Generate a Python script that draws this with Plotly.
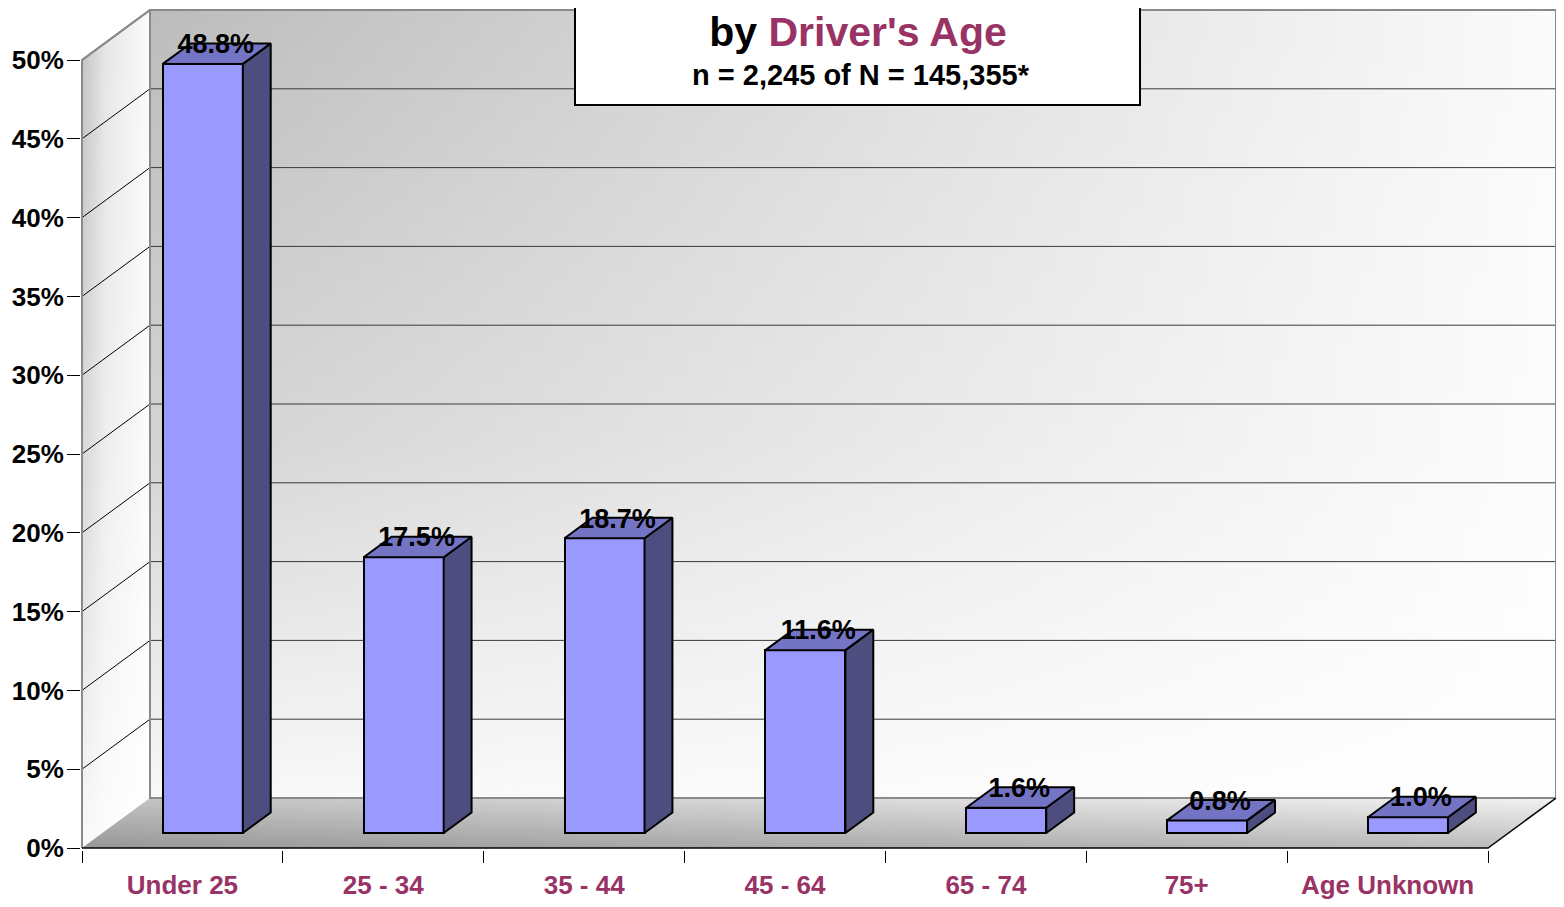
import plotly.graph_objects as go

# ---------------- data ----------------
categories = ["Under 25", "25 - 34", "35 - 44", "45 - 64", "65 - 74", "75+", "Age Unknown"]
shares = [48.8, 17.5, 18.7, 11.6, 1.6, 0.8, 1.0]
y_ticks = [0, 5, 10, 15, 20, 25, 30, 35, 40, 45, 50]
y_tick_labels = [f"{v}%" for v in y_ticks]
title_main = "by <span style='color:#993366'>Driver's Age</span>"
title_sub = "n = 2,245 of N = 145,355*"

# ---------------- geometry / style ----------------
OFF = 8                      # page body margin of the html page
W, H = 1564 - OFF, 907 - OFF
FRONT_LEFT_PX, ZERO_PX = 82 - OFF, 848 - OFF
XSTEP = 1406 / 7.0          # px per category
YSTEP = 788 / 50.0          # px per percent
DX = 68 / XSTEP             # depth offset (x units)
DY = 50 / YSTEP             # depth offset (y units)
PL, PR, PT, PB = 81 - OFF, 1558 - OFF, 0, 850 - OFF
x_range = [-0.5 - (FRONT_LEFT_PX - PL) / XSTEP, -0.5 + (PR - FRONT_LEFT_PX) / XSTEP]
y_range = [-(PB - ZERO_PX) / YSTEP, (ZERO_PX - PT) / YSTEP]
YMAX = max(y_ticks)
NCAT = len(categories)

D0 = 0.30                   # bar front depth
DD = 0.41                   # bar depth
BW = 80 / XSTEP             # bar width

FONT = "Liberation Sans, Arial, sans-serif"
MAROON = "#993366"
FRONT_C, TOP_C, SIDE_C = "#9999FF", "#7474C4", "#4D4D80"

fig = go.Figure()

xl, xr = -0.5, NCAT - 0.5

# back wall (horizontal gradient + white vertical overlay)
bw_x = [xl + DX, xr + DX, xr + DX, xl + DX, xl + DX]
bw_y = [DY, DY, YMAX + DY, YMAX + DY, DY]
fig.add_trace(go.Scatter(x=bw_x, y=bw_y, mode="none", fill="toself",
                         fillgradient=dict(type="horizontal",
                                           colorscale=[[0, "#bcbcbc"], [0.5, "#dcdcdc"], [1, "#fbfbfb"]]),
                         hoverinfo="skip", showlegend=False))
fig.add_trace(go.Scatter(x=bw_x, y=bw_y, mode="none", fill="toself",
                         fillgradient=dict(type="vertical",
                                           colorscale=[[0, "rgba(255,255,255,0.9)"], [0.45, "rgba(255,255,255,0.35)"],
                                                       [1, "rgba(255,255,255,0)"]]),
                         hoverinfo="skip", showlegend=False))

# left wall
lw_x = [xl, xl + DX, xl + DX, xl, xl]
lw_y = [0, DY, YMAX + DY, YMAX, 0]
fig.add_trace(go.Scatter(x=lw_x, y=lw_y, mode="none", fill="toself",
                         fillgradient=dict(type="horizontal",
                                           colorscale=[[0, "#c2c2c2"], [0.35, "#e6e6e6"], [1, "#fbfbfb"]]),
                         hoverinfo="skip", showlegend=False))
fig.add_trace(go.Scatter(x=lw_x, y=lw_y, mode="none", fill="toself",
                         fillgradient=dict(type="vertical",
                                           colorscale=[[0, "rgba(255,255,255,0.9)"], [0.45, "rgba(255,255,255,0.35)"],
                                                       [1, "rgba(255,255,255,0)"]]),
                         hoverinfo="skip", showlegend=False))

# floor
fl_x = [xl, xr, xr + DX, xl + DX, xl]
fl_y = [0, 0, DY, DY, 0]
fig.add_trace(go.Scatter(x=fl_x, y=fl_y, mode="none", fill="toself",
                         fillgradient=dict(type="horizontal",
                                           colorscale=[[0, "#c2c2c2"], [1, "#f2f2f2"]]),
                         hoverinfo="skip", showlegend=False))
fig.add_trace(go.Scatter(x=fl_x, y=fl_y, mode="none", fill="toself",
                         fillgradient=dict(type="vertical",
                                           colorscale=[[0, "rgba(0,0,0,0.22)"], [1, "rgba(0,0,0,0)"]]),
                         hoverinfo="skip", showlegend=False))

# back wall gridlines + left wall diagonals
gx, gy, dx_, dy_ = [], [], [], []
for v in y_ticks[1:]:
    gx += [xl + DX, xr + DX, None]
    gy += [v + DY, v + DY, None]
for v in y_ticks[1:]:
    dx_ += [xl, xl + DX, None]
    dy_ += [v, v + DY, None]
fig.add_trace(go.Scatter(x=gx, y=gy, mode="lines", line=dict(color="#3a3a3a", width=1),
                         hoverinfo="skip", showlegend=False))
fig.add_trace(go.Scatter(x=dx_, y=dy_, mode="lines", line=dict(color="black", width=1),
                         hoverinfo="skip", showlegend=False))

# gray wall borders
fig.add_trace(go.Scatter(
    x=[xl, xl, xl + DX, xr + DX, xr + DX, None, xl + DX, xl + DX, xr + DX, None, xl, xl + DX],
    y=[0, YMAX, YMAX + DY, YMAX + DY, DY, None, YMAX + DY, DY, DY, None, YMAX, YMAX + DY],
    mode="lines", line=dict(color="#8a8a8a", width=2), hoverinfo="skip", showlegend=False))

# front floor edge and right floor edge
fig.add_trace(go.Scatter(x=[xl, xr, xr + DX], y=[0, 0, DY], mode="lines",
                         line=dict(color="black", width=1.5), hoverinfo="skip", showlegend=False))

# ---------------- bars on overlay axes ----------------
bx = [i + D0 * DX for i in range(NCAT)]
base = D0 * DY
fig.add_trace(go.Bar(x=bx, y=shares, base=base, width=BW, xaxis="x2", yaxis="y2",
                     marker=dict(color=FRONT_C, line=dict(color="black", width=2)),
                     hoverinfo="skip", showlegend=False))

sx, sy, tx, ty = [], [], [], []
for xc, v in zip(bx, shares):
    x0, x1 = xc - BW / 2, xc + BW / 2
    b, t = base, base + v
    sx += [x1, x1 + DD * DX, x1 + DD * DX, x1, x1, None]
    sy += [b, b + DD * DY, t + DD * DY, t, b, None]
    tx += [x0, x1, x1 + DD * DX, x0 + DD * DX, x0, None]
    ty += [t, t, t + DD * DY, t + DD * DY, t, None]
fig.add_trace(go.Scatter(x=sx, y=sy, mode="lines", fill="toself", fillcolor=SIDE_C,
                         line=dict(color="black", width=2), xaxis="x2", yaxis="y2",
                         hoverinfo="skip", showlegend=False))
fig.add_trace(go.Scatter(x=tx, y=ty, mode="lines", fill="toself", fillcolor=TOP_C,
                         line=dict(color="black", width=2), xaxis="x2", yaxis="y2",
                         hoverinfo="skip", showlegend=False))

# value labels
fig.add_trace(go.Scatter(x=[i + 0.49 * DX for i in range(NCAT)],
                         y=[base + v + DD * DY - 3 / YSTEP for v in shares],
                         mode="text", text=[f"{v:.1f}%" for v in shares],
                         textposition="middle center",
                         textfont=dict(family=FONT, size=27, color="black", weight="bold"),
                         xaxis="x2", yaxis="y2", cliponaxis=False,
                         hoverinfo="skip", showlegend=False))

# ---------------- title box ----------------
def px_to_paper_x(px):
    return (px - OFF - PL) / (PR - PL)

def px_to_paper_y(py):
    return (PB - (py - OFF)) / (PB - PT)

fig.add_shape(type="rect", xref="paper", yref="paper",
              x0=px_to_paper_x(575), x1=px_to_paper_x(1140),
              y0=px_to_paper_y(105), y1=px_to_paper_y(-20),
              fillcolor="white", line=dict(color="black", width=2), layer="above")

fig.add_annotation(text=title_sub, xref="paper", yref="paper",
                   x=px_to_paper_x(861), y=px_to_paper_y(75), xanchor="center", yanchor="middle",
                   showarrow=False, font=dict(family=FONT, size=29, color="black", weight="bold"))

fig.update_layout(
    width=W, height=H, autosize=False,
    margin=dict(l=PL, r=W - PR, t=PT, b=H - PB, autoexpand=False),
    paper_bgcolor="white", plot_bgcolor="rgba(0,0,0,0)",
    title=dict(text=title_main, xref="container", yref="container",
               x=(858 - OFF) / W, y=1 - (32 - OFF) / H, xanchor="center", yanchor="middle",
               font=dict(family=FONT, size=41, color="black", weight="bold")),
    bargap=0,
    xaxis=dict(range=x_range, tickmode="array", tickvals=list(range(NCAT)), ticktext=categories,
               ticks="outside", ticklen=0, showgrid=False, zeroline=False, showline=False,
               tickfont=dict(family=FONT, size=26, color=MAROON, weight="bold"),
               ticklabelstandoff=12, automargin=False,
               minor=dict(tickmode="array", tickvals=[i - 0.5 for i in range(NCAT + 1)],
                          ticks="outside", ticklen=12, tickcolor="black", tickwidth=1, showgrid=False),
               fixedrange=True),
    yaxis=dict(range=y_range, tickmode="array", tickvals=y_ticks, ticktext=y_tick_labels,
               ticks="outside", ticklen=13, tickcolor="black", tickwidth=1,
               showgrid=False, zeroline=False, showline=False, automargin=False,
               tickfont=dict(family=FONT, size=26, color="black", weight="bold"),
               ticklabelstandoff=-2, fixedrange=True),
    xaxis2=dict(overlaying="x", range=x_range, visible=False, fixedrange=True),
    yaxis2=dict(overlaying="y", range=y_range, visible=False, fixedrange=True),
)

fig.write_html("out.html")
